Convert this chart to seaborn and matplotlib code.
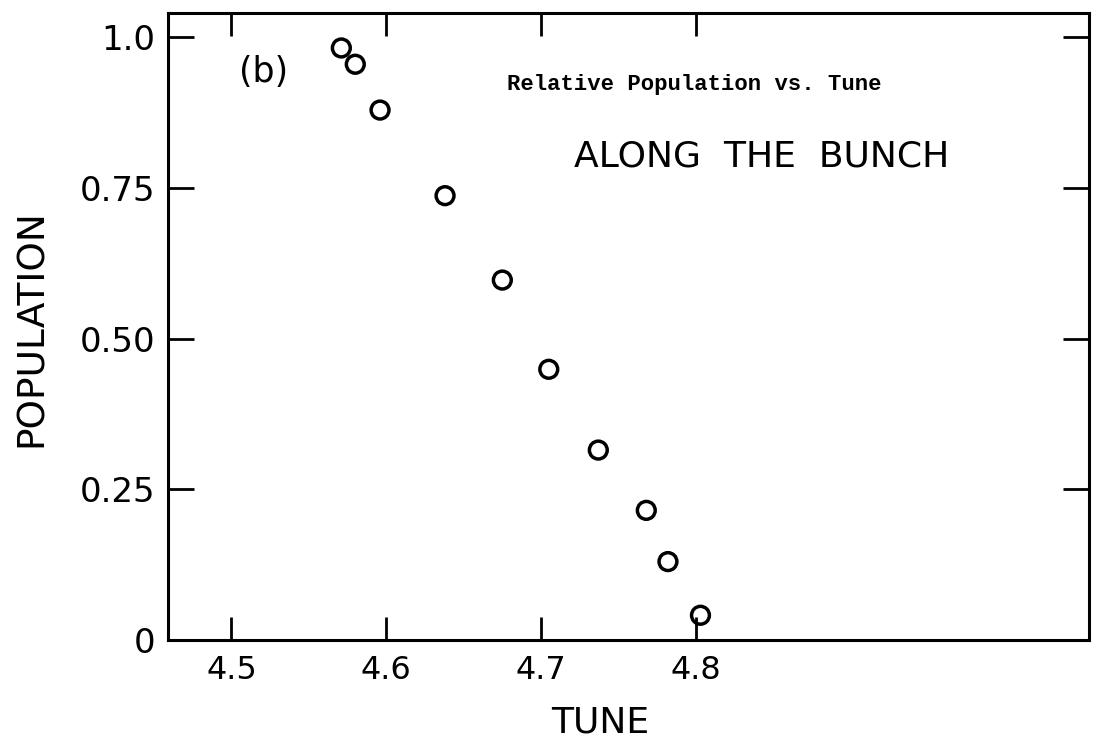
import pandas as pd
import matplotlib
matplotlib.use("Agg")
import matplotlib.pyplot as plt
import seaborn as sns

# values
tune = [4.571, 4.580, 4.596, 4.638, 4.675, 4.705, 4.737, 4.768, 4.782, 4.803]
population = [0.982, 0.955, 0.879, 0.737, 0.597, 0.449, 0.315, 0.215, 0.130, 0.041]

x_ticks = [4.5, 4.6, 4.7, 4.8]
x_tick_labels = ["4.5", "4.6", "4.7", "4.8"]
y_ticks = [0, 0.25, 0.5, 0.75, 1.0]
y_tick_labels = ["0", "0.25", "0.50", "0.75", "1.0"]

df = pd.DataFrame({"TUNE": tune, "POPULATION": population})

sns.set_style("ticks", {"text.color": "black", "axes.labelcolor": "black",
                        "xtick.color": "black", "ytick.color": "black",
                        "axes.edgecolor": "black"})
plt.rcParams["font.family"] = ["DejaVu Sans"]

fig = plt.figure(figsize=(11, 7.39), dpi=100)
ax = fig.add_axes([0.1527, 0.134, 0.8373, 0.8484])

sns.scatterplot(data=df, x="TUNE", y="POPULATION", ax=ax, marker="o",
                s=165, facecolors="none", edgecolor="black", linewidth=2.5)

ax.set_xlim(4.459, 5.054)
ax.set_ylim(0, 1.04)

ax.set_xticks(x_ticks)
ax.set_xticklabels(x_tick_labels)
ax.set_yticks(y_ticks)
ax.set_yticklabels(y_tick_labels)

for side in ["left", "right", "top", "bottom"]:
    ax.spines[side].set_visible(True)
    ax.spines[side].set_linewidth(2.2)
    ax.spines[side].set_color("black")

ax.tick_params(axis="x", direction="in", length=16.5, width=2.0, pad=11,
               labelsize=23, colors="black", top=True, bottom=True)
ax.tick_params(axis="y", direction="in", length=19, width=2.0, pad=9,
               labelsize=24.5, colors="black", left=True, right=True)

ax.set_xlabel("TUNE", fontsize=26, color="black")
ax.xaxis.set_label_coords(0.469, -0.105)
ax.set_ylabel("POPULATION", fontsize=27, va="center", color="black")
ax.yaxis.set_label_coords(-0.148, 0.4976)

ax.text(4.521, 0.942, "(b)", fontsize=25, ha="center", va="center", color="black")
ax.text(4.678, 0.9115, "Relative Population vs. Tune", fontsize=16,
        family=["Liberation Mono", "DejaVu Sans Mono"], fontweight="bold",
        ha="left", va="baseline", color="black")
ax.text(4.721, 0.785, "ALONG  THE  BUNCH", fontsize=26, ha="left",
        va="baseline", color="black")

ax.grid(False)

plt.savefig("out.png", dpi=100)
plt.close()
